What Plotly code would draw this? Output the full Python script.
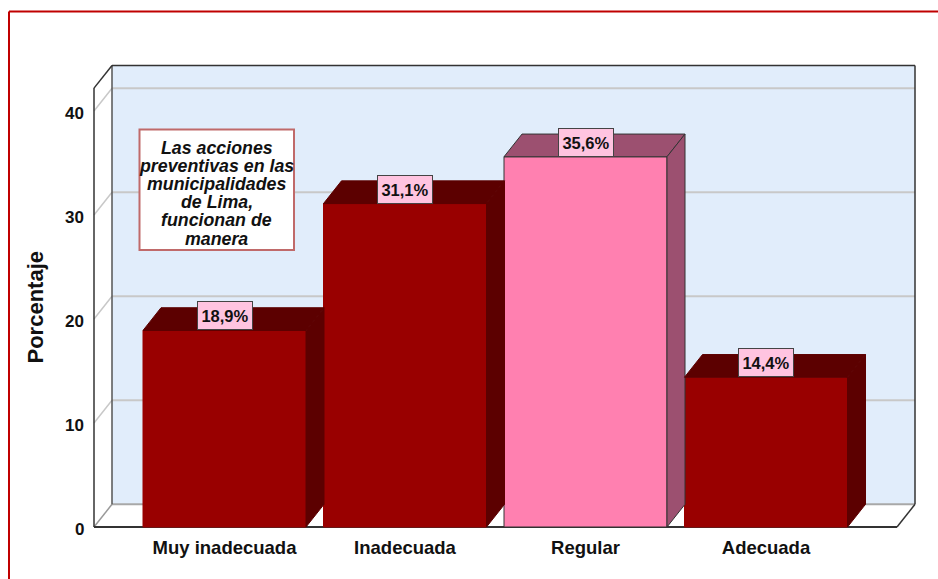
import plotly.graph_objects as go

# ---- data ----
categories = ["Muy inadecuada", "Inadecuada", "Regular", "Adecuada"]
percentages = [18.9, 31.1, 35.6, 14.4]
value_labels = ["18,9%", "31,1%", "35,6%", "14,4%"]
y_ticks = [0, 10, 20, 30, 40]
note_lines = ["Las acciones", "preventivas en las", "municipalidades", "de Lima,", "funcionan de", "manera"]

# ---- styles ----
RED, RED_DARK = "#990000", "#5c0000"
PINK, PINK_DARK = "#ff80b0", "#9c5070"
front_colors = [RED, RED, PINK, RED]
shade_colors = [RED_DARK, RED_DARK, PINK_DARK, RED_DARK]
edge_colors = [RED, RED, "#333333", RED]
edge_shade = [RED_DARK, RED_DARK, "#333333", RED_DARK]
WALL = "#e1edfb"
GRID = "#c8c8c8"
DARK = "#333333"
FONT = "Liberation Sans"

W, H = 938, 579
PL, PR, PT, PB = 92, 920, 62, 530   # plot box in pixels
X0, XU = 224.5, 180.5               # pixel of category 0, pixels per category
Y0, YU = 527.0, 10.4                # pixel of value 0, pixels per unit
DX, DY = 18 / XU, 22.7 / YU         # depth of the pseudo-3D box
BAR_W = 163 / XU
FLOOR_L, FLOOR_R = (94 - X0) / XU, (897 - X0) / XU
Y_TOP = 42.2


def px(p):
    return (p - PL) / (PR - PL)


def py(p):
    return 1 - (p - PT) / (PB - PT)


fig = go.Figure()
fig.add_trace(go.Bar(
    x=list(range(len(categories))), y=percentages, width=BAR_W,
    marker=dict(color=front_colors, line=dict(color=edge_colors, width=1)),
    showlegend=False, hoverinfo="skip",
))

for i, v in enumerate(percentages):
    l, r = i - BAR_W / 2, i + BAR_W / 2
    fig.add_trace(go.Scatter(
        x=[l, r, r + DX, l + DX, l], y=[v, v, v + DY, v + DY, v],
        mode="lines", fill="toself", fillcolor=shade_colors[i],
        line=dict(color=edge_shade[i], width=1), showlegend=False, hoverinfo="skip"))
    fig.add_trace(go.Scatter(
        x=[r, r + DX, r + DX, r, r], y=[0, DY, v + DY, v, 0],
        mode="lines", fill="toself", fillcolor=shade_colors[i],
        line=dict(color=edge_shade[i], width=1), showlegend=False, hoverinfo="skip"))


def seg(x0, y0, x1, y1, color, width):
    return dict(type="line", xref="x", yref="y", x0=x0, y0=y0, x1=x1, y1=y1,
                line=dict(color=color, width=width), layer="below")


shapes = [
    # back wall
    dict(type="rect", xref="x", yref="y", x0=FLOOR_L + DX, x1=FLOOR_R + DX, y0=DY,
         y1=Y_TOP + DY, fillcolor=WALL, line=dict(width=0), layer="below"),
]
for t in y_ticks[1:]:
    shapes.append(seg(FLOOR_L + DX, t + DY, FLOOR_R + DX, t + DY, GRID, 2))
for t in y_ticks[1:]:
    shapes.append(seg(FLOOR_L, t, FLOOR_L + DX, t + DY, GRID, 1.5))
shapes += [
    seg(FLOOR_L + DX, DY, FLOOR_R + DX, DY, "#a8a8a8", 2),
    seg(FLOOR_L, 0, FLOOR_L + DX, DY, "#9a9a9a", 1.5),
    seg(FLOOR_L + DX, DY, FLOOR_L + DX, Y_TOP + DY, "#555555", 1.5),
    seg(FLOOR_L + DX, Y_TOP + DY, FLOOR_R + DX, Y_TOP + DY, DARK, 1.5),
    seg(FLOOR_R + DX, DY, FLOOR_R + DX, Y_TOP + DY, DARK, 1.5),
    seg(FLOOR_L, 0, FLOOR_L, Y_TOP, DARK, 1.5),
    seg(FLOOR_L, Y_TOP, FLOOR_L + DX, Y_TOP + DY, DARK, 1.5),
    seg(FLOOR_R, 0, FLOOR_R + DX, DY, DARK, 1.5),
    seg(FLOOR_L, 0, FLOOR_R, 0, DARK, 2),
    # red frame of the picture
    dict(type="line", xref="paper", yref="paper", x0=px(9), x1=px(W), y0=py(11.5), y1=py(11.5),
         line=dict(color="#c00000", width=2)),
    dict(type="line", xref="paper", yref="paper", x0=px(9), x1=px(9), y0=py(11.5), y1=py(H),
         line=dict(color="#c00000", width=2)),
    # note box
    dict(type="rect", xref="paper", yref="paper", x0=px(139.5), x1=px(294), y0=py(129.5), y1=py(250),
         fillcolor="white", line=dict(color="#c06a6a", width=2)),
]

annotations = []
for i, v in enumerate(percentages):
    annotations.append(dict(
        x=i, y=v, xref="x", yref="y", text=value_labels[i], showarrow=False,
        yanchor="bottom", xanchor="center", width=54, height=27, align="center", valign="middle",
        bgcolor="#ffc4e0", bordercolor="#444444", borderwidth=1, borderpad=0,
        font=dict(family=FONT, size=16.5, color="#111111", weight="bold"),
    ))
for k, line in enumerate(note_lines):
    annotations.append(dict(
        x=px(216.5), y=py(147.5 + 18.2 * k), xref="paper", yref="paper", text=line, showarrow=False,
        xanchor="center", yanchor="middle",
        font=dict(family=FONT, size=17.8, color="#111111", weight="bold", style="italic"),
    ))
annotations.append(dict(
    x=px(35), y=py(307.5), xref="paper", yref="paper", text="Porcentaje", showarrow=False,
    textangle=-90, xanchor="center", yanchor="middle",
    font=dict(family=FONT, size=22, color="#111111", weight="bold"),
))
for t in y_ticks:
    annotations.append(dict(
        x=px(85.5), y=t, xref="paper", yref="y", text=str(t), showarrow=False,
        xanchor="right", yanchor="middle", yshift=-2.5, xshift=0,
        font=dict(family=FONT, size=17, color="#111111", weight="bold"),
    ))

fig.update_layout(
    width=W, height=H, autosize=False,
    margin=dict(l=PL, r=W - PR, t=PT, b=H - PB, pad=0),
    paper_bgcolor="white", plot_bgcolor="white", showlegend=False,
    shapes=shapes, annotations=annotations,
    xaxis=dict(range=[(PL - X0) / XU, (PR - X0) / XU], tickvals=list(range(len(categories))),
               ticktext=categories, showgrid=False, zeroline=False, showline=False, ticks="",
               ticklabelstandoff=4, tickfont=dict(family=FONT, size=18.5, color="#111111", weight="bold")),
    yaxis=dict(range=[(Y0 - PB) / YU, (Y0 - PT) / YU], tickvals=y_ticks, showgrid=False,
               zeroline=False, showline=False, ticks="", showticklabels=False),
)
fig.write_html("out.html", config={"displayModeBar": False},
               post_script="document.body.style.margin='0';document.body.style.overflow='hidden';")
